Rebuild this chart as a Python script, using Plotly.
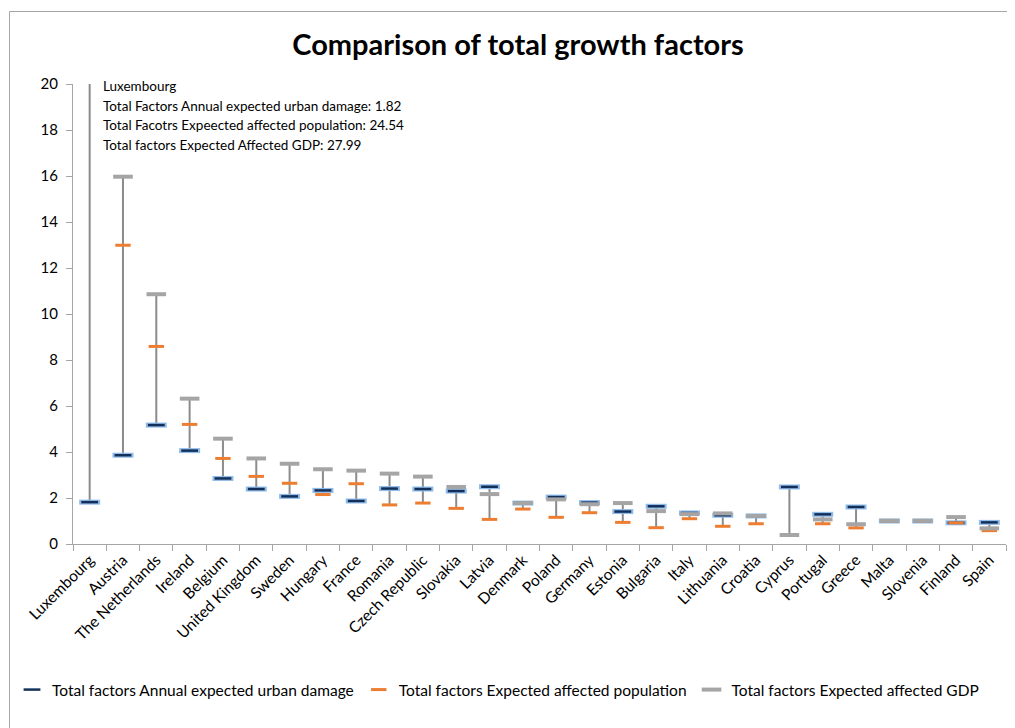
import plotly.graph_objects as go

countries = ["Luxembourg", "Austria", "The Netherlands", "Ireland", "Belgium", "United Kingdom",
             "Sweden", "Hungary", "France", "Romania", "Czech Republic", "Slovakia", "Latvia",
             "Denmark", "Poland", "Germany", "Estonia", "Bulgaria", "Italy", "Lithuania", "Croatia",
             "Cyprus", "Portugal", "Greece", "Malta", "Slovenia", "Finland", "Spain"]

urban_damage = [1.82, 3.86, 5.17, 4.06, 2.85, 2.39, 2.07, 2.33, 1.87, 2.41, 2.39, 2.30, 2.49,
                1.78, 2.04, 1.80, 1.41, 1.64, 1.35, 1.25, 1.22, 2.48, 1.29, 1.61, 1.00, 1.00, 0.92, 0.94]
affected_pop = [24.54, 12.99, 8.59, 5.20, 3.72, 2.94, 2.64, 2.15, 2.62, 1.70, 1.78, 1.55, 1.07,
                1.52, 1.16, 1.36, 0.94, 0.71, 1.10, 0.77, 0.88, 0.39, 0.88, 0.70, 1.00, 1.00, 0.92, 0.58]
affected_gdp = [27.99, 15.97, 10.86, 6.32, 4.58, 3.72, 3.49, 3.25, 3.19, 3.06, 2.93, 2.48, 2.17,
                1.78, 1.94, 1.73, 1.78, 1.43, 1.30, 1.33, 1.22, 0.39, 1.07, 0.86, 1.01, 1.01, 1.17, 0.68]

series_names = ["Total factors Annual expected urban damage",
                "Total factors Expected affected population",
                "Total factors Expected affected GDP"]

FONT = "Lato"
OFF = 8                      # page body margin
W, H = 1015 - OFF, 728 - OFF
L, R, T, B = 73 - OFF, 9, 84 - OFF, 184

fig = go.Figure()

# high-low lines
lx, ly = [], []
for c, a, b, g in zip(countries, urban_damage, affected_pop, affected_gdp):
    lx += [c, c, None]
    ly += [min(a, b, g), max(a, b, g), None]
fig.add_trace(go.Scatter(x=lx, y=ly, mode="lines", line=dict(color="#8c8c8c", width=2),
                         showlegend=False, hoverinfo="skip"))

# blue glow
fig.add_trace(go.Scatter(x=countries, y=urban_damage, mode="markers", showlegend=False,
                         marker=dict(symbol="line-ew", size=15, line=dict(color="#8fbbe8", width=5)),
                         hoverinfo="skip"))
fig.add_trace(go.Scatter(x=countries, y=urban_damage, mode="markers", name=series_names[0],
                         marker=dict(symbol="line-ew", size=12, line=dict(color="#14305a", width=2.5))))
fig.add_trace(go.Scatter(x=countries, y=affected_pop, mode="markers", name=series_names[1],
                         marker=dict(symbol="line-ew", size=11, line=dict(color="#ed7d31", width=3))))
fig.add_trace(go.Scatter(x=countries, y=affected_gdp, mode="markers", name=series_names[2],
                         marker=dict(symbol="line-ew", size=14, line=dict(color="#a5a5a5", width=4))))

def px_x(p):
    return (p - OFF - L) / (W - L - R)

def px_y(p):
    return (H - B - (p - OFF)) / (H - T - B)

# chart-area border (top and left edges visible in the frame)
fig.add_shape(type="line", xref="paper", yref="paper", x0=px_x(9.5), x1=px_x(1015), y0=px_y(11.5), y1=px_y(11.5),
              line=dict(color="#a6a6a6", width=1), layer="below")
fig.add_shape(type="line", xref="paper", yref="paper", x0=px_x(9.5), x1=px_x(9.5), y0=px_y(11.5), y1=px_y(728),
              line=dict(color="#a6a6a6", width=1), layer="below")

ann_lines = [countries[0],
             f"Total Factors Annual expected urban damage: {urban_damage[0]:.2f}",
             f"Total Facotrs Expeected affected population: {affected_pop[0]:.2f}",
             f"Total factors Expected Affected GDP: {affected_gdp[0]:.2f}"]
for i, t in enumerate(ann_lines):
    fig.add_annotation(text=t, xref="paper", yref="paper", x=px_x(101), y=px_y(86 + 19.5 * i),
                       xanchor="left", yanchor="middle", showarrow=False,
                       font=dict(family=FONT, size=13.5, color="#000000"))

fig.update_layout(
    width=W, height=H,
    margin=dict(l=L, r=R, t=T, b=B, autoexpand=False),
    paper_bgcolor="white", plot_bgcolor="white",
    font=dict(family=FONT, size=13, color="#000000"),
    title=dict(text="<b>Comparison of total growth factors</b>", xref="container", x=(518 - OFF) / W,
               xanchor="center", y=1 - 37 / H, yanchor="middle",
               font=dict(family=FONT, size=29, color="#000000")),
    xaxis=dict(type="category", range=[-0.5, len(countries) - 0.5], tickangle=-45, automargin=False,
               tickson="boundaries", ticks="outside", ticklen=6, tickcolor="#a6a6a6",
               showline=True, linecolor="#a6a6a6", linewidth=1, showgrid=False,
               tickfont=dict(family=FONT, size=15.5)),
    yaxis=dict(range=[0, 20], dtick=2, ticks="outside", ticklen=6, tickcolor="#a6a6a6", automargin=False,
               showline=True, linecolor="#a6a6a6", linewidth=1, showgrid=False, zeroline=False,
               ticklabelstandoff=5, tickfont=dict(family=FONT, size=15)),
    legend=dict(orientation="h", x=px_x(12), xanchor="left", y=px_y(690), yanchor="middle",
                bgcolor="rgba(0,0,0,0)", font=dict(family=FONT, size=15.5), itemwidth=30,
                tracegroupgap=0),
    showlegend=True,
)

fig.write_html("out.html")
